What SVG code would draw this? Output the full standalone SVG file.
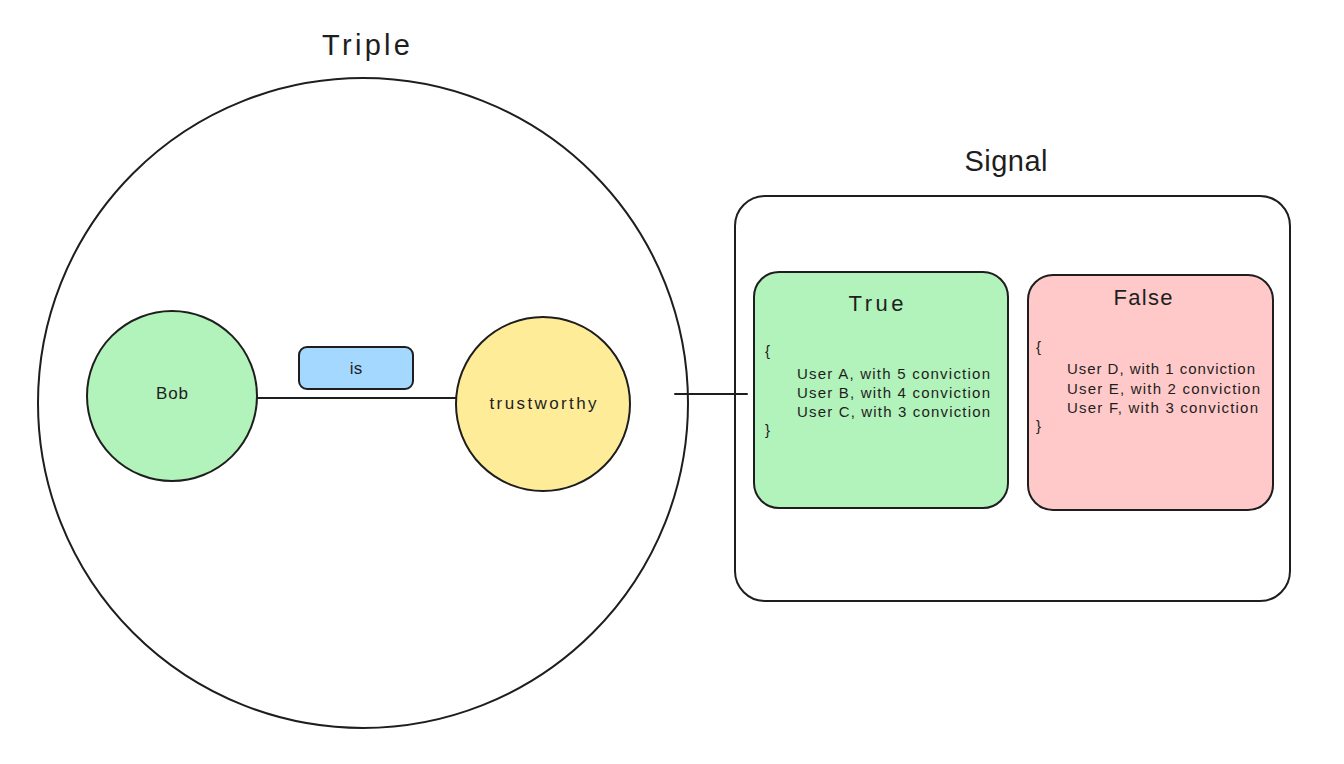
<svg xmlns="http://www.w3.org/2000/svg" width="1344" height="764" viewBox="0 0 1344 764">
<style>
.s{stroke:#1e1e1e;stroke-width:2;stroke-linecap:round}
.t{font-family:"Liberation Sans",sans-serif;fill:#1e1e1e}
.big{font-size:29px;text-anchor:middle}
.mid{font-size:22px;text-anchor:middle}
.lab{font-size:17px;text-anchor:middle}
.body{font-size:15px}
</style>
<rect width="1344" height="764" fill="#ffffff"/>
<g id="triple">
<circle class="s" cx="363" cy="403" r="325" fill="none"/>
<text class="t big" x="366" y="55" textLength="88" lengthAdjust="spacing">Triple</text>
</g>
<g id="connectors">
<line class="s" x1="258" y1="398" x2="456" y2="398" stroke-width="2.5"/>
<line class="s" x1="675" y1="394" x2="747" y2="394"/>
</g>
<g id="bob">
<circle class="s" cx="172" cy="396" r="85" fill="#b2f2bb"/>
<text class="t lab" x="172" y="399" textLength="32" lengthAdjust="spacing">Bob</text>
</g>
<g id="is">
<rect class="s" x="299" y="347" width="114" height="42" rx="8" fill="#a5d8ff"/>
<text class="t lab" x="356" y="374">is</text>
</g>
<g id="trustworthy">
<circle class="s" cx="543" cy="404" r="87" fill="#ffec99"/>
<text class="t lab" x="543" y="409" textLength="107" lengthAdjust="spacing">trustworthy</text>
</g>
<g id="signal">
<rect class="s" x="735" y="196" width="555" height="405" rx="30" fill="none"/>
<text class="t big" x="1006" y="171" textLength="83" lengthAdjust="spacing">Signal</text>
</g>
<g id="true">
<rect class="s" x="754" y="272" width="254" height="236" rx="25" fill="#b2f2bb"/>
<text class="t mid" x="876" y="311" textLength="55" lengthAdjust="spacing">True</text>
<text class="t body" x="765" y="356">{</text>
<text class="t body" x="797" y="379" textLength="193" lengthAdjust="spacing">User A, with 5 conviction</text>
<text class="t body" x="797" y="398" textLength="193" lengthAdjust="spacing">User B, with 4 conviction</text>
<text class="t body" x="797" y="417" textLength="193" lengthAdjust="spacing">User C, with 3 conviction</text>
<text class="t body" x="765" y="435">}</text>
</g>
<g id="false">
<rect class="s" x="1028" y="275" width="245" height="235" rx="25" fill="#ffc9c9"/>
<text class="t mid" x="1143" y="305" textLength="59" lengthAdjust="spacing">False</text>
<text class="t body" x="1036" y="352">{</text>
<text class="t body" x="1067" y="374" textLength="188" lengthAdjust="spacing">User D, with 1 conviction</text>
<text class="t body" x="1067" y="394" textLength="193" lengthAdjust="spacing">User E, with 2 conviction</text>
<text class="t body" x="1067" y="413" textLength="191" lengthAdjust="spacing">User F, with 3 conviction</text>
<text class="t body" x="1036" y="431">}</text>
</g>
</svg>
